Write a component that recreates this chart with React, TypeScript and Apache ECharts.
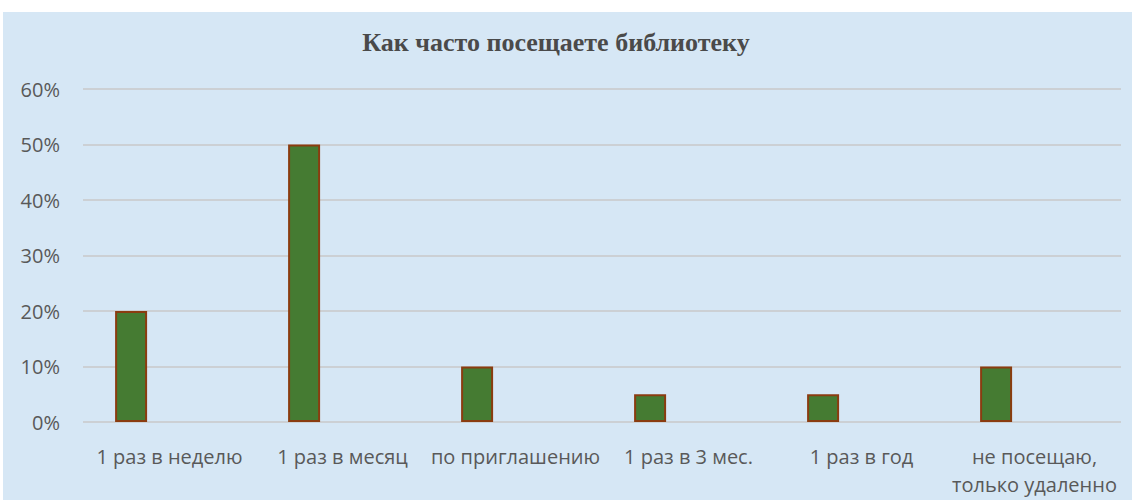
import React, { useEffect, useRef } from "react";
import * as echarts from "echarts";

const categories = [
  "1 раз в неделю",
  "1 раз в месяц",
  "по приглашению",
  "1 раз в 3 мес.",
  "1 раз в год",
  "не посещаю,\nтолько удаленно",
];
const values = [0.2, 0.5, 0.1, 0.05, 0.05, 0.1];
const emptySeries = ["-", "-", "-", "-", "-", "-"];
const yTicks = { min: 0, max: 0.6, interval: 0.1 };
const title = "Как часто посещаете библиотеку";

export default function App() {
  const ref = useRef<HTMLDivElement>(null);
  useEffect(() => {
    if (!ref.current) return;
    const chart = echarts.init(ref.current, undefined, { renderer: "svg" });
    chart.setOption({
      animation: false,
      backgroundColor: "#ffffff",
      graphic: [
        {
          type: "rect",
          z: -10,
          silent: true,
          shape: { x: 3, y: 12, width: 1129, height: 488 },
          style: { fill: "#d6e7f5" },
        },
      ],
      title: {
        text: title,
        left: 551,
        textAlign: "center",
        top: 24,
        textStyle: {
          fontFamily: "'Liberation Serif', serif",
          fontWeight: "bold",
          fontSize: 26,
          color: "#4a4a4a",
        },
      },
      grid: { left: 83, right: 11, top: 89, bottom: 78, containLabel: false },
      xAxis: {
        type: "category",
        data: categories,
        axisLine: { show: false },
        axisTick: { show: false },
        axisLabel: {
          margin: 20,
          fontFamily: "'Open Sans', sans-serif",
          fontSize: 20,
          lineHeight: 28,
          color: "#595959",
          interval: 0,
        },
      },
      yAxis: {
        type: "value",
        min: yTicks.min,
        max: yTicks.max,
        interval: yTicks.interval,
        axisLine: { show: false },
        axisTick: { show: false },
        splitLine: { lineStyle: { color: "#c8c8c8", width: 1.5 } },
        axisLabel: {
          margin: 23,
          fontFamily: "'Open Sans', sans-serif",
          fontSize: 20,
          color: "#595959",
          formatter: (v: number) => Math.round(v * 100) + "%",
        },
      },
      series: [
        {
          type: "bar",
          data: values,
          barWidth: 32,
          barGap: "140%",
          itemStyle: {
            color: "#457b32",
            borderColor: "#8a3c10",
            borderWidth: 2,
          },
        },
        {
          type: "bar",
          data: emptySeries,
          barWidth: 32,
        },
      ],
    });
    return () => chart.dispose();
  }, []);
  return (
    <div
      ref={ref}
      style={{ position: "fixed", left: 0, top: 0, width: 1132, height: 500 }}
    />
  );
}
